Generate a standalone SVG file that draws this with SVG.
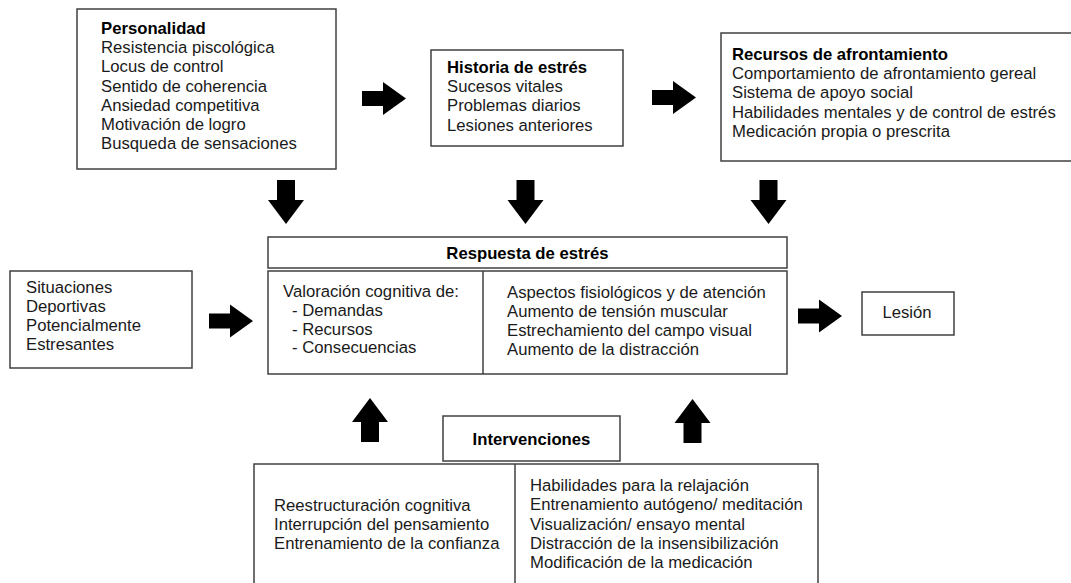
<svg xmlns="http://www.w3.org/2000/svg" width="1071" height="583" viewBox="0 0 1071 583">
<style>
  .box { fill: #ffffff; stroke: #404040; stroke-width: 1.5; }
  .ln { stroke: #404040; stroke-width: 1.5; fill: none; }
  text { font-family: "Liberation Sans", Arial, sans-serif; font-size: 16.7px; fill: #1a1a1a; }
  .b { font-weight: bold; fill: #000; }
  .mid { text-anchor: middle; }
  .arr { fill: #000; }
</style>
<defs>
  <path id="arrow-h" d="M0,-7.5 H21 V-16.5 L44,0 L21,16.5 V7.5 H0 Z"/>
  <path id="arrow-v" d="M-9,0 H9 V20 H18 L0,44 L-18,20 H-9 Z"/>
</defs>
<rect width="1071" height="583" fill="#ffffff"/>

<g id="personalidad">
  <rect class="box" x="77" y="9" width="259" height="160"/>
  <text x="101" y="34" class="b">Personalidad</text>
  <text x="101" y="53.2">Resistencia piscológica</text>
  <text x="101" y="72.4">Locus de control</text>
  <text x="101" y="91.6">Sentido de coherencia</text>
  <text x="101" y="110.8">Ansiedad competitiva</text>
  <text x="101" y="130">Motivación de logro</text>
  <text x="101" y="149.2">Busqueda de sensaciones</text>
</g>

<g id="historia">
  <rect class="box" x="431" y="50" width="192" height="96"/>
  <text x="447" y="73" class="b">Historia de estrés</text>
  <text x="447" y="92.2">Sucesos vitales</text>
  <text x="447" y="111.4">Problemas diarios</text>
  <text x="447" y="130.6">Lesiones anteriores</text>
</g>

<g id="recursos">
  <rect class="box" x="721" y="33" width="360" height="128"/>
  <text x="732" y="60" class="b">Recursos de afrontamiento</text>
  <text x="732" y="79.2">Comportamiento de afrontamiento gereal</text>
  <text x="732" y="98.4">Sistema de apoyo social</text>
  <text x="732" y="117.6">Habilidades mentales y de control de estrés</text>
  <text x="732" y="136.8">Medicación propia o prescrita</text>
</g>

<g id="situaciones">
  <rect class="box" x="10" y="271" width="182" height="97"/>
  <text x="26" y="293">Situaciones</text>
  <text x="26" y="312">Deportivas</text>
  <text x="26" y="331">Potencialmente</text>
  <text x="26" y="350">Estresantes</text>
</g>

<g id="respuesta">
  <rect class="box" x="268" y="237" width="519" height="31"/>
  <text x="527.5" y="259" class="b mid">Respuesta de estrés</text>
  <rect class="box" x="268" y="271" width="519" height="103"/>
  <line class="ln" x1="483" y1="271" x2="483" y2="374"/>
  <text x="283" y="297">Valoración cognitiva de:</text>
  <text x="292" y="316">- Demandas</text>
  <text x="292" y="334.5">- Recursos</text>
  <text x="292" y="353">- Consecuencias</text>
  <text x="507" y="298">Aspectos fisiológicos y de atención</text>
  <text x="507" y="317">Aumento de tensión muscular</text>
  <text x="507" y="336">Estrechamiento del campo visual</text>
  <text x="507" y="355">Aumento de la distracción</text>
</g>

<g id="lesion">
  <rect class="box" x="862" y="292" width="92" height="43"/>
  <text x="907" y="318" class="mid">Lesión</text>
</g>

<g id="intervenciones">
  <rect class="box" x="443" y="416" width="177" height="45"/>
  <text x="531.5" y="445" class="b mid">Intervenciones</text>
</g>

<g id="intervenciones-detalle">
  <rect class="box" x="254" y="464" width="564" height="140"/>
  <line class="ln" x1="515" y1="464" x2="515" y2="604"/>
  <text x="274" y="511">Reestructuración cognitiva</text>
  <text x="274" y="530">Interrupción del pensamiento</text>
  <text x="274" y="549">Entrenamiento de la confianza</text>
  <text x="530" y="491">Habilidades para la relajación</text>
  <text x="530" y="510">Entrenamiento autógeno/ meditación</text>
  <text x="530" y="529.5">Visualización/ ensayo mental</text>
  <text x="530" y="548.5">Distracción de la insensibilización</text>
  <text x="530" y="568">Modificación de la medicación</text>
</g>

<g id="connectors" class="arr">
  <use href="#arrow-h" transform="translate(362,98.5)"/>
  <use href="#arrow-h" transform="translate(652,97.5)"/>
  <use href="#arrow-h" transform="translate(209,321)"/>
  <use href="#arrow-h" transform="translate(798,316)"/>
  <use href="#arrow-v" transform="translate(286,180)"/>
  <use href="#arrow-v" transform="translate(525.5,180)"/>
  <use href="#arrow-v" transform="translate(768.5,180)"/>
  <use href="#arrow-v" transform="translate(370,442) scale(1,-1)"/>
  <use href="#arrow-v" transform="translate(692.5,443) scale(1,-1)"/>
</g>
</svg>
